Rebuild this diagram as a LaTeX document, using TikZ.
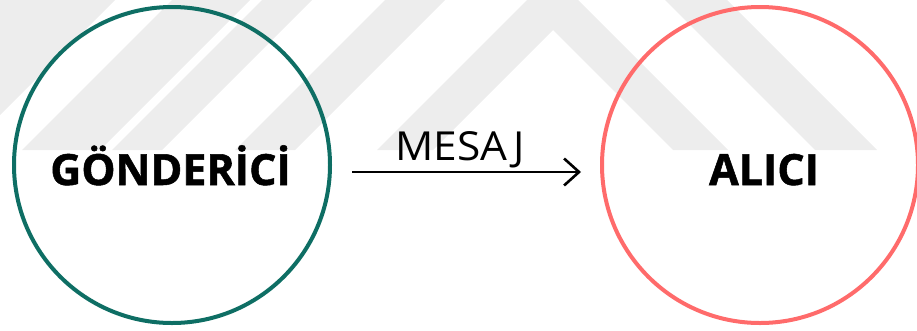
\documentclass[tikz,border=0pt]{standalone}
\usepackage{fontspec}
\setmainfont{Open Sans}
\newfontfamily\heavyfont{Open Sans}[UprightFont=*-Bold, FakeBold=1.2]
\usetikzlibrary{arrows.meta}
\definecolor{sendercol}{HTML}{0E6E64}
\definecolor{receivercol}{HTML}{FF6B6B}
\definecolor{markcol}{HTML}{EDEDED}
\tikzset{
  party/.style={circle, draw=#1, line width=4pt, inner sep=0pt, minimum size=316pt},
  partylabel/.style={anchor=base, font=\heavyfont\fontsize{43pt}{43pt}\selectfont, text=black, inner sep=0pt},
  msglabel/.style={anchor=base, font=\fontsize{40pt}{40pt}\selectfont, text=black, inner sep=0pt, xscale=1.06},
  msgarrow/.style={line width=2.6pt, -{Straight Barb[length=15pt,width=27pt,line width=2.6pt]}},
}
\begin{document}
\begin{tikzpicture}[x=1pt, y=-1pt]
  \useasboundingbox (0,0) rectangle (917,330);
  % faint chevron background mark
  \begin{scope}
    \clip (0,0) rectangle (917,150);
    \fill[markcol] (-10,-10) -- (125,-10) -- (-10,125) -- cycle;
    \fill[markcol] (172,0) -- (250,0) -- (100,150) -- (22,150) -- cycle;
    \fill[markcol] (262,0) -- (312,0) -- (162,150) -- (112,150) -- cycle;
    \fill[markcol] (235,150) -- (556,-171) -- (877,150) -- (815,150) -- (555,-110) -- (295,150) -- cycle;
    \fill[markcol] (377,150) -- (552.5,-25.5) -- (728,150) -- (673,150) -- (553,30) -- (433,150) -- cycle;
  \end{scope}
  % the two parties
  \node[party=sendercol] (snd) at (172,165) {};
  \node[party=receivercol] (rcv) at (760,165) {};
  \node[partylabel] (sndtxt) at (170.5,185) {GÖNDERİCİ};
  \node[partylabel] (rcvtxt) at (764,185) {ALICI};
  % the message between them
  \draw[msgarrow, shorten <=20pt, shorten >=19pt] ([yshift=-7pt]snd.east) -- ([yshift=-7pt]rcv.west);
  \node[msglabel] (msg) at (460,160) {MESAJ};
\end{tikzpicture}
\end{document}
